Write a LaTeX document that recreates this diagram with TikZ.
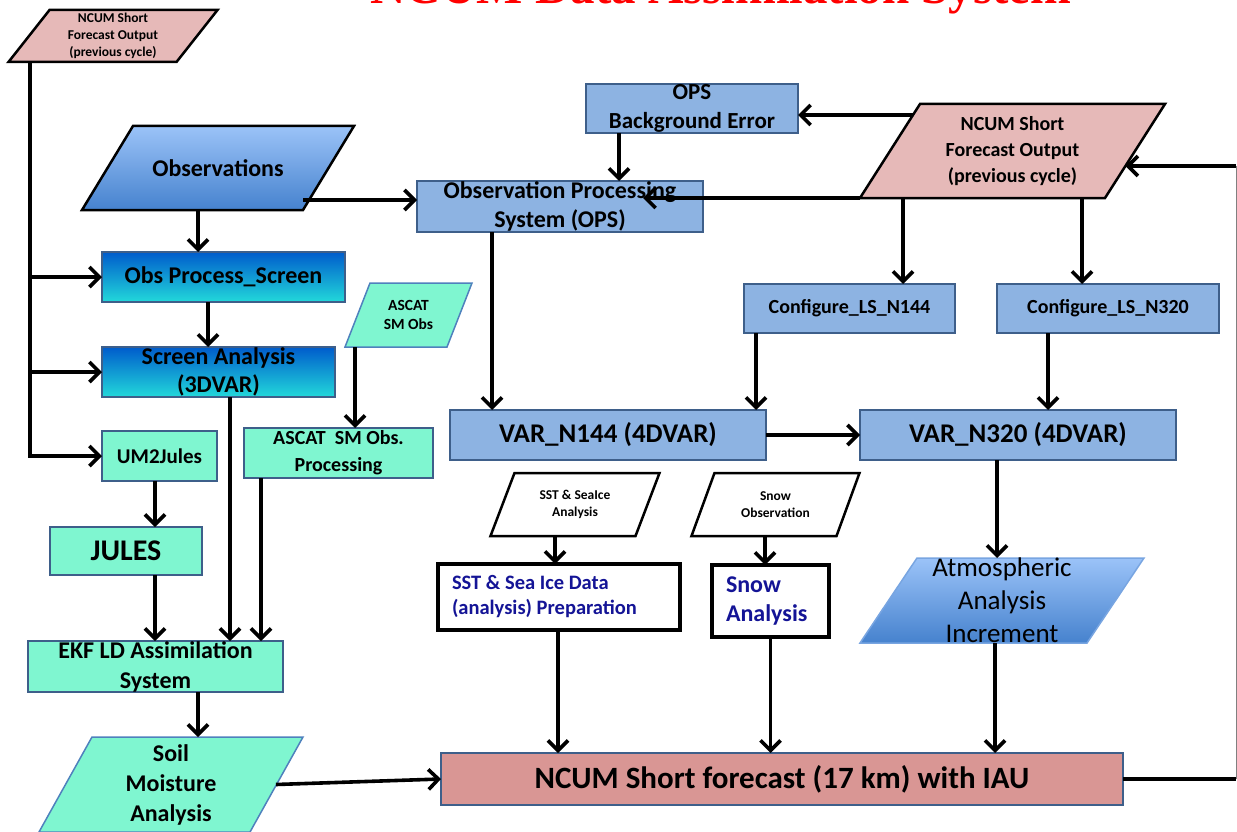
\documentclass[tikz,border=0pt]{standalone}
\usepackage{fontspec}
\setmainfont{Carlito}
\newfontfamily\titlefont{Liberation Serif}
\usepackage{tikz}
\usetikzlibrary{arrows.meta}
\usetikzlibrary{backgrounds}

\definecolor{pinkpar}{RGB}{230,185,184}
\definecolor{pinkbox}{RGB}{217,150,148}
\definecolor{aqua}{RGB}{127,246,208}
\definecolor{opsblue}{RGB}{141,179,226}
\definecolor{edgeblue}{RGB}{62,95,138}
\definecolor{lineblue}{RGB}{79,129,189}
\definecolor{paleedge}{RGB}{120,165,225}
\definecolor{deepblue}{RGB}{0,92,204}
\definecolor{cyanish}{RGB}{34,216,218}
\definecolor{skytop}{RGB}{155,195,248}
\definecolor{skybot}{RGB}{70,130,206}
\definecolor{navytext}{RGB}{20,20,150}

\newcommand{\sz}[2]{\fontsize{#1}{#2}\selectfont\bfseries}
% outline of a parallelogram round a body node
\newcommand{\paraedge}[3]{%
  \begin{pgfonlayer}{background}
    \path[#3] (#1.north west) -- ([xshift=#2]#1.north east)
      -- (#1.south east) -- ([xshift=-#2]#1.south west) -- cycle;
  \end{pgfonlayer}}

\tikzset{
  box/.style={rectangle, draw=edgeblue, line width=2.5pt, inner sep=0pt, outer sep=0pt, align=center},
  opsbox/.style={box, fill=opsblue},
  aquabox/.style={box, fill=aqua},
  screenbox/.style={box, top color=deepblue, bottom color=cyanish},
  fcstbox/.style={box, fill=pinkbox},
  whitebox/.style={rectangle, draw=black, line width=3.5pt, fill=white, inner sep=0pt, inner xsep=14pt, outer sep=0pt, align=flush left, text=navytext},
  parbody/.style={rectangle, inner sep=0pt, outer sep=0pt, align=center},
  pinkedge/.style={draw=black, line width=2.5pt, fill=pinkpar},
  obsedge/.style={draw=black, line width=2.5pt, top color=skytop, bottom color=skybot},
  aquaedge/.style={draw=lineblue, line width=1.5pt, fill=aqua},
  plainedge/.style={draw=black, line width=2.5pt, fill=white},
  incredge/.style={draw=paleedge, line width=1.5pt, top color=skytop, bottom color=skybot},
  line/.style={line width=3.6pt, black},
  arr/.style={line, -{Straight Barb[length=10pt,width=20pt]}},
  titletext/.style={text=red, font=\titlefont\bfseries\fontsize{49}{51}\selectfont}
}

\begin{document}
\begin{tikzpicture}[x=1pt, y=-1pt]
\useasboundingbox (0,0) rectangle (1237,832);
% title, cut by the top edge
\node[titletext, anchor=base] (title) at (721,4) {NCUM Data Assimilation System};
% left column
\node[parbody, minimum width=127pt, minimum height=52pt, font=\sz{13.5}{17}] (prevleft) at (113,36) {NCUM Short\\Forecast Output\\(previous cycle)};
\node[parbody, minimum width=170pt, minimum height=84pt, font=\sz{24}{28}] (obs) at (218,168) {Observations};
\node[screenbox, minimum width=243pt, minimum height=50pt, font=\sz{24}{28}] (obsproc) at (223.5,277) {Obs Process\_Screen};
\node[screenbox, minimum width=233pt, minimum height=50pt, font=\sz{24}{28}] (screen) at (218.5,372) {Screen Analysis\\(3DVAR)};
\node[parbody, minimum width=77pt, minimum height=64pt, font=\sz{15.5}{19}] (ascat) at (408.5,315) {ASCAT\\SM Obs};
\node[aquabox, minimum width=115pt, minimum height=50pt, font=\sz{21}{25}] (um2jules) at (159.5,456) {UM2Jules};
\node[aquabox, minimum width=189pt, minimum height=50pt, font=\sz{20}{27}] (ascatproc) at (338.5,453) {ASCAT\ \ SM Obs.\\Processing};
\node[aquabox, minimum width=152pt, minimum height=48pt, font=\sz{30}{34}] (jules) at (126,551) {JULES};
\node[aquabox, minimum width=255pt, minimum height=51pt, font=\sz{24}{30}] (ekf) at (155.5,666.5) {EKF LD Assimilation\\System};
\node[parbody, minimum width=158pt, minimum height=95pt, font=\sz{24}{30}] (soil) at (171,784.5) {Soil\\Moisture\\Analysis};
% OPS and VAR
\node[opsbox, minimum width=212pt, minimum height=49pt, font=\sz{23}{29}] (opsbe) at (692,108.5) {OPS\\Background Error};
\node[opsbox, minimum width=286pt, minimum height=51pt, font=\sz{24}{29}] (ops) at (560,206.5) {Observation Processing\\System (OPS)};
\node[parbody, minimum width=185pt, minimum height=94pt, font=\sz{20}{26}] (prevright) at (1012.5,151) {NCUM Short\\Forecast Output\\(previous cycle)};
\node[opsbox, minimum width=211pt, minimum height=49pt, font=\sz{20}{24}] (conf144) at (849.5,308.5) {Configure\_LS\_N144};
\node[opsbox, minimum width=222pt, minimum height=49pt, font=\sz{20}{24}] (conf320) at (1108,308.5) {Configure\_LS\_N320};
\node[opsbox, minimum width=316pt, minimum height=50pt, font=\sz{27}{30}] (var144) at (608,435) {VAR\_N144 (4DVAR)};
\node[opsbox, minimum width=316pt, minimum height=50pt, font=\sz{27}{30}] (var320) at (1018,435) {VAR\_N320 (4DVAR)};
% surface and increment
\node[parbody, minimum width=121pt, minimum height=63pt, font=\sz{13.5}{17}] (sstobs) at (575,504.5) {SST \& SeaIce\\Analysis};
\node[parbody, minimum width=122pt, minimum height=63pt, font=\sz{13.5}{17}] (snowobs) at (775.5,504.5) {Snow\\Observation};
\node[whitebox, text width=214pt, minimum height=66pt, font=\sz{20.5}{25}] (sstprep) at (559,597) {SST \& Sea Ice Data\\(analysis) Preparation};
\node[whitebox, text width=89pt, minimum height=72pt, font=\sz{24}{29}] (snow) at (770.5,601) {Snow\\Analysis};
\node[parbody, minimum width=170pt, minimum height=85pt, font=\fontsize{27}{33}\selectfont] (incr) at (1002,600.5) {Atmospheric\\Analysis\\Increment};
\node[fcstbox, minimum width=682pt, minimum height=52pt, font=\sz{31}{34}] (fcst) at (782,779) {NCUM Short forecast (17 km) with IAU};
% parallelogram outlines
\paraedge{prevleft}{41pt}{pinkedge}
\paraedge{obs}{51pt}{obsedge}
\paraedge{ascat}{25pt}{aquaedge}
\paraedge{soil}{53pt}{aquaedge}
\paraedge{prevright}{60pt}{pinkedge}
\paraedge{sstobs}{24pt}{plainedge}
\paraedge{snowobs}{23pt}{plainedge}
\paraedge{incr}{57pt}{incredge}
% left trunk
\coordinate (trunk) at ([xshift=-83pt]prevleft.south);
\draw[arr] (trunk |- obsproc.west) -- (obsproc.west);
\draw[arr] (trunk |- screen.west) -- (screen.west);
\draw[arr] (trunk) -- (trunk |- um2jules.west) -- (um2jules.west);
% land surface chain
\draw[arr] ([xshift=-20pt]obs.south) -- ([xshift=-20pt]obs.south |- obsproc.north);
\draw[arr] ([yshift=6.5pt]ops.west -| obs.east) -- ([yshift=6.5pt]ops.west);
\draw[arr] ([xshift=-15.5pt]obsproc.south) -- ([xshift=-15.5pt]obsproc.south |- screen.north);
\draw[arr] ([xshift=11.5pt]screen.south) -- ([xshift=11.5pt]screen.south |- ekf.north);
\draw[arr] ([xshift=-53.5pt]ascat.south) -- ([xshift=-53.5pt]ascat.south |- ascatproc.north);
\draw[arr] ([xshift=-77.5pt]ascatproc.south) -- ([xshift=-77.5pt]ascatproc.south |- ekf.north);
\draw[arr] ([xshift=-4.5pt]um2jules.south) -- ([xshift=-4.5pt]um2jules.south |- jules.north);
\draw[arr] ([xshift=29pt]jules.south) -- ([xshift=29pt]jules.south |- ekf.north);
\draw[arr] ([xshift=42.5pt]ekf.south) -- ([xshift=42.5pt]ekf.south |- soil.north);
\draw[arr] ([xshift=26pt]soil.east) -- (fcst.west);
% atmosphere chain
\draw[arr] ([xshift=-73pt]opsbe.south) -- ([xshift=-73pt]opsbe.south |- ops.north);
\draw[arr] ([xshift=-7pt,yshift=-11pt]prevright.north west) -- ([yshift=-6.5pt]opsbe.east);
\draw[arr] ([xshift=-60pt]prevright.south west) -- ([xshift=-60pt]prevright.south west -| ops.east);
\draw[arr] ([xshift=-109.5pt]prevright.south) -- ([xshift=-109.5pt]prevright.south |- conf144.north);
\draw[arr] ([xshift=69.5pt]prevright.south) -- ([xshift=69.5pt]prevright.south |- conf320.north);
\draw[arr] ([xshift=-68pt]ops.south) -- ([xshift=-68pt]ops.south |- var144.north);
\draw[arr] ([xshift=-93.5pt]conf144.south) -- ([xshift=-93.5pt]conf144.south |- var144.north);
\draw[arr] ([xshift=-60pt]conf320.south) -- ([xshift=-60pt]conf320.south |- var320.north);
\draw[arr] (var144.east) -- (var320.west);
\draw[arr] ([xshift=-21pt]var320.south) -- ([xshift=-21pt]var320.south |- incr.north);
% into the forecast
\draw[arr] ([xshift=-20pt]sstobs.south) -- ([xshift=-20pt]sstobs.south |- sstprep.north);
\draw[arr] ([xshift=-10.5pt]snowobs.south) -- ([xshift=-10.5pt]snowobs.south |- snow.north);
\draw[arr] ([xshift=-1pt]sstprep.south) -- ([xshift=-1pt]sstprep.south |- fcst.north);
\draw[arr] (snow.south) -- (snow.south |- fcst.north);
\draw[arr] ([xshift=-7pt]incr.south) -- ([xshift=-7pt]incr.south |- fcst.north);
% cycle back
\coordinate (loopdown) at (1236,779);
\coordinate (loopup) at (1236,166);
\draw[line] (fcst.east) -- (loopdown);
\draw[gray, line width=1pt] (loopdown) -- (loopup);
\draw[arr] (loopup) -- ([xshift=20.4pt,yshift=-15pt]prevright.east);
\end{tikzpicture}
\end{document}
